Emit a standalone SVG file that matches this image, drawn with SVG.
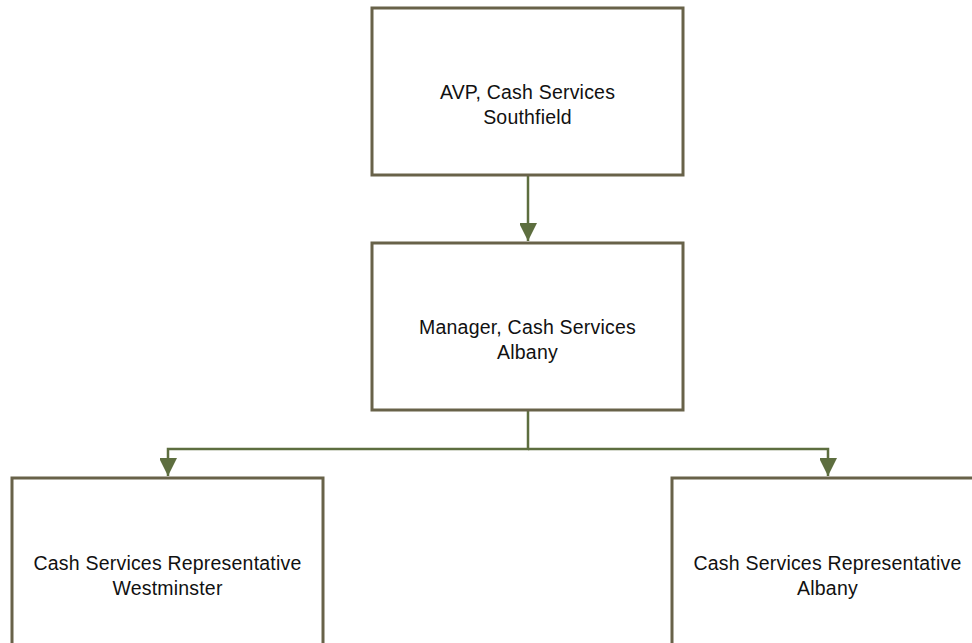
<svg xmlns="http://www.w3.org/2000/svg" width="972" height="643" viewBox="0 0 972 643">
<style>
.box{fill:#ffffff;stroke:#686249;stroke-width:3}
.lbl{font-family:"Liberation Sans",Arial,sans-serif;font-size:19.5px;letter-spacing:0.2px;fill:#111111;text-anchor:middle}
.conn{fill:none;stroke:#5d6e3f;stroke-width:2.5}
</style>
<defs>
<marker id="arr" markerUnits="userSpaceOnUse" markerWidth="18" markerHeight="17" refX="18" refY="9" orient="auto">
<path d="M0,0 L18,9 L0,18 Z" fill="#5d6e3f"/>
</marker>
</defs>
<rect width="972" height="643" fill="#ffffff"/>
<g id="connectors">
<path class="conn" d="M528,176 V241" marker-end="url(#arr)"/>
<path class="conn" d="M528,411 V449 H168 V476" marker-end="url(#arr)"/>
<path class="conn" d="M528,449 H828 V476" marker-end="url(#arr)"/>
</g>
<g id="n1">
<rect class="box" x="372" y="8" width="311" height="167"/>
<text class="lbl" x="527.5" y="99">AVP, Cash Services</text>
<text class="lbl" x="527.5" y="124">Southfield</text>
</g>
<g id="n2">
<rect class="box" x="372" y="243" width="311" height="167"/>
<text class="lbl" x="527.5" y="333.5">Manager, Cash Services</text>
<text class="lbl" x="527.5" y="358.5">Albany</text>
</g>
<g id="n3">
<rect class="box" x="12" y="478" width="311" height="170"/>
<text class="lbl" x="167.5" y="569.5">Cash Services Representative</text>
<text class="lbl" x="167.5" y="595">Westminster</text>
</g>
<g id="n4">
<rect class="box" x="672" y="478" width="311" height="170"/>
<text class="lbl" x="827.5" y="569.5">Cash Services Representative</text>
<text class="lbl" x="827.5" y="595">Albany</text>
</g>
</svg>
